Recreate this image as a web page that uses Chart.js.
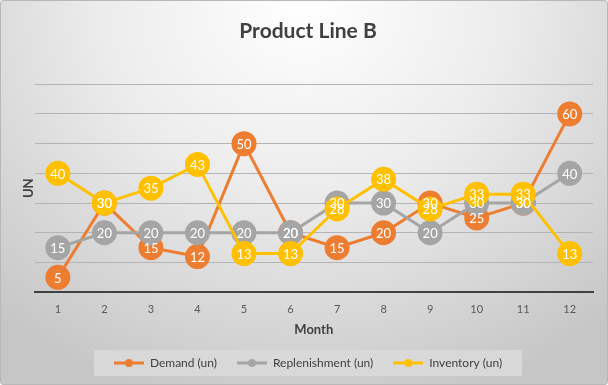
<!DOCTYPE html>
<html>
<head>
<meta charset="utf-8">
<script src="https://cdn.jsdelivr.net/npm/chart.js@4/dist/chart.umd.min.js"></script>
<style>
  html, body { margin: 0; padding: 0; background: #fff; }
  #wrap {
    position: relative;
    width: 606px;
    height: 383px;
    border: 1px solid #b8b8b8;
    border-radius: 3px;
    background: radial-gradient(ellipse 75% 110% at 50% 0%, #ffffff 0%, #ececec 45%, #d4d4d4 80%, #c6c6c6 100%);
  }
  canvas { display: block; }
</style>
</head>
<body>
<div id="wrap"><canvas id="chart" width="606" height="383"></canvas></div>
<script>
// Chart data
const MONTHS = ['1', '2', '3', '4', '5', '6', '7', '8', '9', '10', '11', '12'];
const DEMAND = [5, 30, 15, 12, 50, 20, 15, 20, 30, 25, 30, 60];
const REPLENISHMENT = [15, 20, 20, 20, 20, 20, 30, 30, 20, 30, 30, 40];
const INVENTORY = [40, 30, 35, 43, 13, 13, 28, 38, 28, 33, 33, 13];
const SERIES_NAMES = ['Demand (un)', 'Replenishment (un)', 'Inventory (un)'];
const COLORS = ['#ED7D31', '#A5A5A5', '#FFC000'];

const FONT = 'Lato, "Open Sans", sans-serif';

// Legend marker: short line with a dot in the middle
function legendMarker(color) {
  const c = document.createElement('canvas');
  c.width = 30;
  c.height = 10;
  const g = c.getContext('2d');
  g.strokeStyle = color;
  g.lineWidth = 3;
  g.beginPath();
  g.moveTo(0, 5);
  g.lineTo(30, 5);
  g.stroke();
  g.fillStyle = color;
  g.beginPath();
  g.arc(15, 5, 4, 0, Math.PI * 2);
  g.fill();
  return c;
}

// later series sit on top, like the spreadsheet
function makeDataset(i, data) {
  return {
    label: SERIES_NAMES[i],
    data: data,
    order: 3 - i,
    borderColor: COLORS[i],
    backgroundColor: COLORS[i],
    pointBackgroundColor: COLORS[i],
    pointBorderColor: COLORS[i],
    borderWidth: 3,
    pointRadius: 11,
    pointHoverRadius: 11,
    tension: 0,
  };
}

const ctx = document.getElementById('chart').getContext('2d');

new Chart(ctx, {
  type: 'line',
  data: {
    labels: MONTHS,
    datasets: [
      makeDataset(0, DEMAND),
      makeDataset(1, REPLENISHMENT),
      makeDataset(2, INVENTORY),
    ],
  },
  options: {
    responsive: false,
    animation: false,
    layout: {
      padding: { left: 20, right: 12, top: 12, bottom: 5 },
    },
    plugins: {
      title: {
        display: true,
        text: 'Product Line B',
        color: '#404040',
        font: { family: FONT, size: 21, weight: 'bold' },
        padding: { top: 6, bottom: 40 },
      },
      legend: {
        position: 'bottom',
        labels: {
          usePointStyle: true,
          pointStyleWidth: 30,
          boxHeight: 10,
          color: '#404040',
          font: { family: FONT, size: 12 },
          padding: 20,
          generateLabels(chart) {
            return chart.data.datasets.map((ds, i) => ({
              text: ds.label,
              pointStyle: legendMarker(COLORS[i]),
              fillStyle: COLORS[i],
              strokeStyle: COLORS[i],
              lineWidth: 0,
              fontColor: '#404040',
              datasetIndex: i,
            }));
          },
        },
      },
      tooltip: { enabled: false },
    },
    scales: {
      x: {
        offset: true,
        grid: { display: false, drawTicks: false },
        border: { display: true, color: '#404040', width: 2 },
        ticks: {
          color: '#595959',
          font: { family: FONT, size: 11 },
          padding: 11,
        },
        title: {
          display: true,
          text: 'Month',
          color: '#404040',
          font: { family: FONT, size: 13, weight: 'bold' },
          padding: { top: -5, bottom: -1 },
        },
      },
      y: {
        min: 0,
        max: 70,
        ticks: { display: false, stepSize: 10 },
        grid: { color: '#b4b4b4', lineWidth: 1, drawTicks: false },
        border: { display: false },
        title: {
          display: true,
          text: 'UN',
          color: '#404040',
          font: { family: FONT, size: 13, weight: 'bold' },
          padding: { top: 0, bottom: -2 },
        },
      },
    },
  },
  plugins: [
    {
      id: 'legendBox',
      beforeDraw(chart) {
        const items = chart.legend && chart.legend.legendHitBoxes;
        if (!items || !items.length) return;
        const left = Math.min(...items.map((b) => b.left));
        const right = Math.max(...items.map((b) => b.left + b.width));
        const top = Math.min(...items.map((b) => b.top));
        const bottom = Math.max(...items.map((b) => b.top + b.height));
        const g = chart.ctx;
        g.save();
        g.fillStyle = 'rgba(217, 217, 217, 0.9)';
        g.fillRect(left - 20, top - 7, right - left + 40, bottom - top + 14);
        g.restore();
      },
    },
    {
      id: 'pointLabels',
      afterDatasetsDraw(chart) {
        const g = chart.ctx;
        g.save();
        g.fillStyle = '#ffffff';
        g.font = '13px ' + FONT;
        g.textAlign = 'center';
        g.textBaseline = 'middle';
        chart.data.datasets.forEach((ds, i) => {
          const meta = chart.getDatasetMeta(i);
          meta.data.forEach((pt, j) => {
            g.fillText(ds.data[j], pt.x, pt.y + 1);
          });
        });
        g.restore();
      },
    },
  ],
});
</script>
</body>
</html>
